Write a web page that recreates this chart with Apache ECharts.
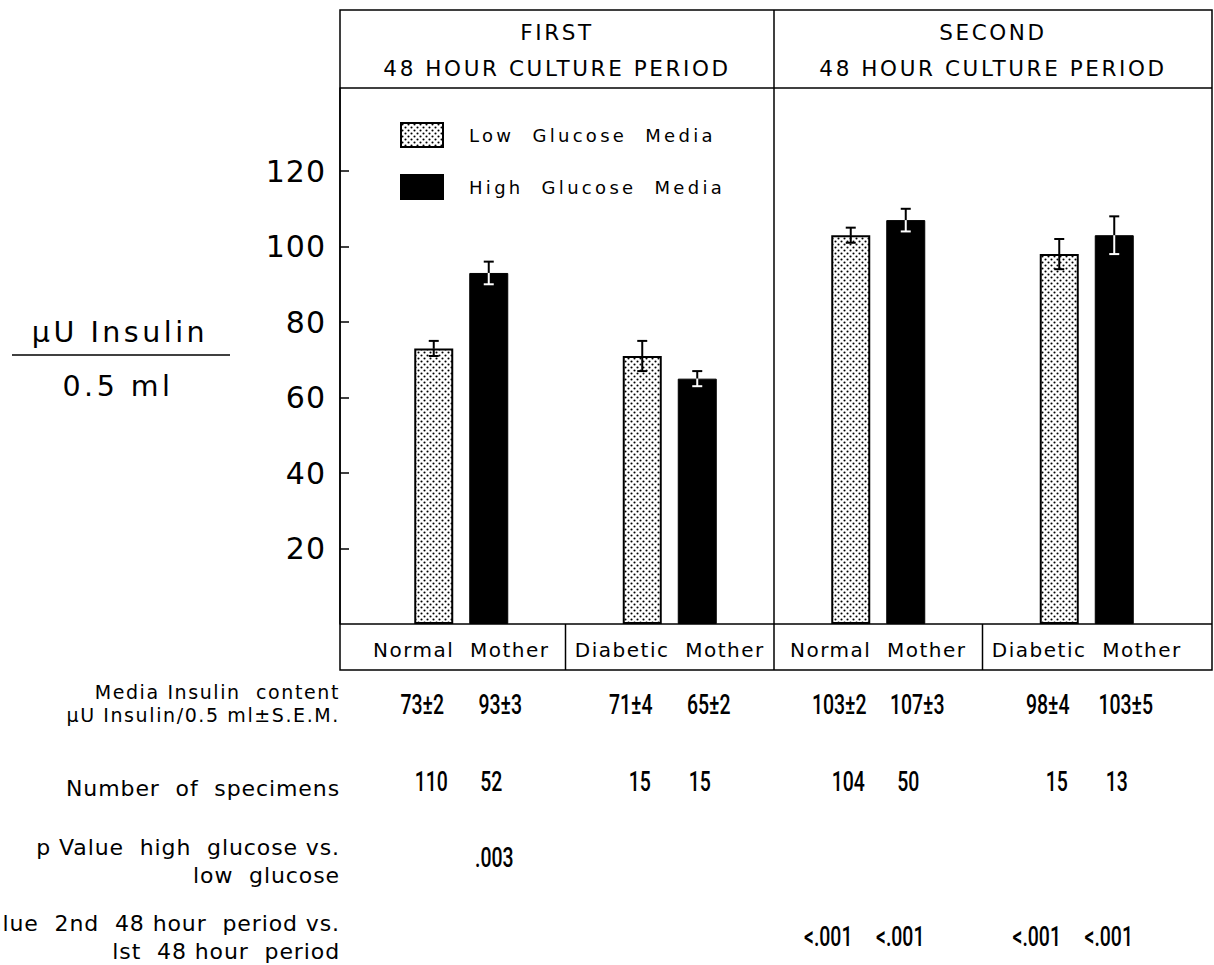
<!DOCTYPE html>
<html>
<head>
<meta charset="utf-8">
<script src="https://cdn.jsdelivr.net/npm/echarts@6/dist/echarts.min.js"></script>
<style>
html,body{margin:0;padding:0;background:#fff;}
#chart{width:1214px;height:965px;}
#chart text[style*="30px"]{letter-spacing:1px;}
#chart text[style*="28.5px"]{letter-spacing:3.5px;}
#chart text[style*="22px"]{letter-spacing:0.9px;}
#chart text[style*="19px"]{letter-spacing:1.6px;}
#chart text[style*="21.5px"]{letter-spacing:2.6px;}
#chart text[style*="20px"]{letter-spacing:1.5px;}
#chart text[style*="18px"]{letter-spacing:3.3px;}
</style>
</head>
<body>
<div id="chart"></div>
<script>
// ---------------- data ----------------
const categories = ['Normal Mother', 'Diabetic Mother', 'Normal Mother', 'Diabetic Mother'];
const periodTitles = ['FIRST', 'SECOND'];
const periodSubtitle = '48 HOUR CULTURE PERIOD';
const seriesNames = ['Low  Glucose  Media', 'High  Glucose  Media'];
const lowMean = [73, 71, 103, 98];
const lowSem = [2, 4, 2, 4];
const highMean = [93, 65, 107, 103];
const highSem = [3, 2, 3, 5];
const lowN = ['110', '15', '104', '15'];
const highN = ['52', '15', '50', '13'];
const pHighVsLowLow = ['', '', '', ''];
const pHighVsLowHigh = ['.003', '', '', ''];
const p2ndVs1stLow = ['', '', '<.001', '<.001'];
const p2ndVs1stHigh = ['', '', '<.001', '<.001'];
const yTicks = [20, 40, 60, 80, 100, 120];
const yTitleTop = 'μU Insulin';
const yTitleBottom = '0.5 ml';
const rowLabels = [
  ['Media Insulin  content', 'μU Insulin/0.5 ml±S.E.M.'],
  ['Number  of  specimens'],
  ['p Value  high  glucose vs.', 'low  glucose'],
  ['p Value  2nd  48 hour  period vs.', 'lst  48 hour  period']
];

// ---------------- layout / style ----------------
const GRID = {left: 357, right: 23, top: 88, bottom: 341};
const BOX = {x1: 340, x2: 1212, top: 10, header: 88, band: 670};
const BAR_W = 39, BAR_GAP = 16, BAR_OFF = (BAR_W + BAR_GAP) / 2;
const FONT = "'DejaVu Sans', sans-serif";
const NUM_FONT = "Roboto, 'Liberation Sans', sans-serif";
const ROW_Y = [705, 782, 858, 937];
const ROW_OFF = [[-39, 39], [-30, 30], [-30, 33], [-50, 22]];
const LABEL_Y = [[692, 715], [788], [847, 875], [923, 951]];

function dotPattern() {
  const c = document.createElement('canvas');
  c.width = 6; c.height = 6;
  const g = c.getContext('2d');
  g.fillStyle = '#fff'; g.fillRect(0, 0, 6, 6);
  g.fillStyle = '#000';
  [[1.5, 1.5], [4.5, 4.5]].forEach(([x, y]) => {
    g.beginPath(); g.arc(x, y, 1.05, 0, Math.PI * 2); g.fill();
  });
  return c;
}
const pat = {image: dotPattern(), repeat: 'repeat', imageWidth: 6, imageHeight: 6};

function errSeries(means, sems, side, innerColor) {
  return {
    type: 'custom', silent: true, z: 5,
    data: means.map((m, i) => [i, m, sems[i]]),
    encode: {x: 0, y: 1},
    renderItem(params, api) {
      const i = api.value(0), m = api.value(1), s = api.value(2);
      const pT = api.coord([i, m + s]), pM = api.coord([i, m]), pB = api.coord([i, m - s]);
      const x = pT[0] + side * BAR_OFF, cap = 5;
      return {type: 'group', children: [
        {type: 'line', shape: {x1: x, y1: pT[1], x2: x, y2: pM[1]}, style: {stroke: '#000', lineWidth: 2}},
        {type: 'line', shape: {x1: x - cap, y1: pT[1], x2: x + cap, y2: pT[1]}, style: {stroke: '#000', lineWidth: 2}},
        {type: 'line', shape: {x1: x, y1: pM[1], x2: x, y2: pB[1]}, style: {stroke: innerColor, lineWidth: 2}},
        {type: 'line', shape: {x1: x - cap, y1: pB[1], x2: x + cap, y2: pB[1]}, style: {stroke: innerColor, lineWidth: 2}}
      ]};
    }
  };
}

function txt(text, x, y, size, family, align, scaleX, weight) {
  const el = {type: 'text', x: x, y: y, silent: true,
    style: {text: text, fontSize: size, fontFamily: family, fill: '#000',
      fontWeight: weight || 'normal',
      align: align || 'center', verticalAlign: 'middle',
      textAlign: align || 'center', textVerticalAlign: 'middle'}};
  if (scaleX) el.scaleX = scaleX;
  return el;
}

const tableSeries = {
  type: 'custom', silent: true, z: 5, clip: false,
  data: categories.map((c, i) => [i, 0]),
  encode: {x: 0, y: 1},
  renderItem(params, api) {
    const i = params.dataIndex;
    const cx = api.coord([i, 0])[0];
    const rows = [
      [lowMean[i] + '±' + lowSem[i], highMean[i] + '±' + highSem[i]],
      [lowN[i], highN[i]],
      [pHighVsLowLow[i], pHighVsLowHigh[i]],
      [p2ndVs1stLow[i], p2ndVs1stHigh[i]]
    ];
    const children = [];
    rows.forEach((r, k) => {
      if (r[0]) children.push(txt(r[0], cx + ROW_OFF[k][0], ROW_Y[k], 27, NUM_FONT, 'center', 0.72, 500));
      if (r[1]) children.push(txt(r[1], cx + ROW_OFF[k][1], ROW_Y[k], 27, NUM_FONT, 'center', 0.72, 500));
    });
    return {type: 'group', children: children};
  }
};

const chart = echarts.init(document.getElementById('chart'), null, {renderer: 'svg'});
chart.setOption({
  animation: false,
  backgroundColor: '#fff',
  grid: GRID,
  legend: {
    data: seriesNames, orient: 'vertical', left: 395, top: 117, icon: 'rect',
    itemWidth: 42, itemHeight: 24, itemGap: 26, selectedMode: false,
    textStyle: {fontFamily: FONT, fontSize: 18, color: '#000', padding: [0, 0, 0, 21]}
  },
  xAxis: {
    type: 'category', data: categories,
    axisLine: {show: false}, axisTick: {show: false},
    axisLabel: {interval: 0, margin: 16, fontFamily: FONT, fontSize: 20, color: '#000',
      formatter: v => v.replace(' ', '  ')},
    splitLine: {show: false}
  },
  yAxis: {
    type: 'value', min: 0, max: 142, offset: 17,
    axisLine: {show: true, lineStyle: {color: '#000', width: 1.5}},
    axisTick: {show: true, inside: true, length: 9, customValues: yTicks, lineStyle: {color: '#000', width: 1.5}},
    axisLabel: {customValues: yTicks, margin: 14, fontFamily: FONT, fontSize: 30, color: '#000'},
    splitLine: {show: false}
  },
  series: [
    {name: seriesNames[0], type: 'bar', data: lowMean, barWidth: BAR_W, barGap: (BAR_GAP / BAR_W * 100) + '%',
     itemStyle: {color: pat, borderColor: '#000', borderWidth: 2}},
    {name: seriesNames[1], type: 'bar', data: highMean, barWidth: BAR_W,
     itemStyle: {color: '#000', borderColor: '#000', borderWidth: 1}},
    errSeries(lowMean, lowSem, -1, '#000'),
    errSeries(highMean, highSem, 1, '#fff'),
    tableSeries
  ]
});

// structural lines & texts placed from the axis scales
const cx = categories.map((c, i) => chart.convertToPixel({xAxisIndex: 0}, i));
const bounds = [1, 2, 3].map(i => (cx[i - 1] + cx[i]) / 2);
const y0 = chart.convertToPixel({yAxisIndex: 0}, 0);
const ln = (x1, y1, x2, y2, w) => ({type: 'line', silent: true,
  shape: {x1, y1, x2, y2}, style: {stroke: '#000', lineWidth: w || 1.5}});
const gfx = [
  {type: 'rect', silent: true, shape: {x: BOX.x1, y: BOX.top, width: BOX.x2 - BOX.x1, height: BOX.band - BOX.top},
   style: {fill: 'none', stroke: '#000', lineWidth: 1.5}},
  ln(BOX.x1, BOX.header, BOX.x2, BOX.header),
  ln(BOX.x1, y0, BOX.x2, y0),
  ln(bounds[1], BOX.top, bounds[1], BOX.band),
  ln(bounds[0], y0, bounds[0], BOX.band),
  ln(bounds[2], y0, bounds[2], BOX.band)
];
const halves = [(BOX.x1 + bounds[1]) / 2, (bounds[1] + BOX.x2) / 2];
halves.forEach((hx, k) => {
  gfx.push(txt(periodTitles[k], hx, 32, 21.5, FONT));
  gfx.push(txt(periodSubtitle, hx, 68, 21.5, FONT));
});
// y axis title
gfx.push(txt(yTitleTop, 120, 332, 28.5, FONT));
gfx.push(ln(12, 355, 230, 355, 1.5));
gfx.push(txt(yTitleBottom, 118, 386, 28.5, FONT));
// row labels
rowLabels.forEach((lines, k) => {
  lines.forEach((t, j) => {
    const size = k === 0 ? 19 : 22;
    gfx.push(txt(t, 340, LABEL_Y[k][j], size, FONT, 'right'));
  });
});
chart.setOption({graphic: gfx});
</script>
</body>
</html>
